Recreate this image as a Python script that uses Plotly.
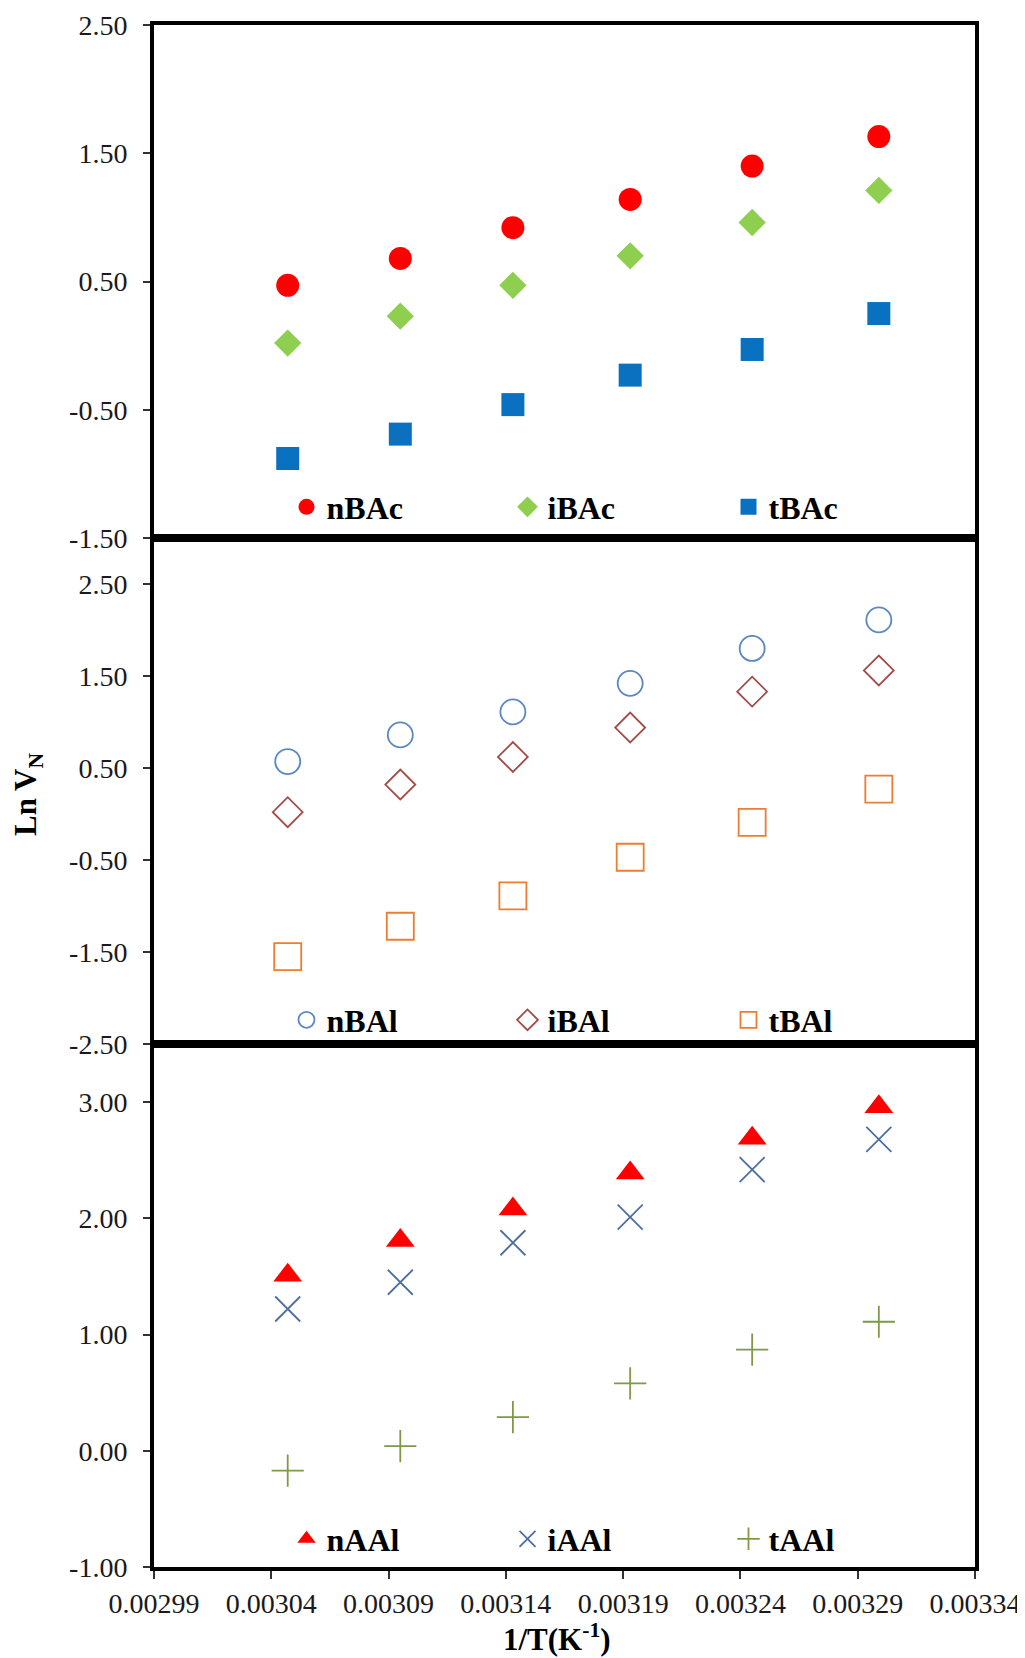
import plotly.graph_objects as go

# ---- data ----
inv_T = [0.003047, 0.003095, 0.003143, 0.003193, 0.003245, 0.003299]

nBAc = [0.47, 0.68, 0.92, 1.14, 1.40, 1.63]
iBAc = [0.02, 0.23, 0.47, 0.70, 0.96, 1.21]
tBAc = [-0.88, -0.69, -0.46, -0.23, -0.03, 0.25]

nBAl = [0.57, 0.86, 1.11, 1.42, 1.80, 2.11]
iBAl = [0.02, 0.32, 0.62, 0.94, 1.33, 1.56]
tBAl = [-1.55, -1.22, -0.89, -0.47, -0.09, 0.27]

nAAl = [1.51, 1.81, 2.08, 2.39, 2.69, 2.96]
iAAl = [1.22, 1.45, 1.79, 2.01, 2.42, 2.68]
tAAl = [-0.17, 0.04, 0.29, 0.58, 0.87, 1.11]

x_ticks = [0.00299, 0.00304, 0.00309, 0.00314, 0.00319, 0.00324, 0.00329, 0.00334]
y1_ticks = [-1.5, -0.5, 0.5, 1.5, 2.5]
y2_ticks = [-2.5, -1.5, -0.5, 0.5, 1.5, 2.5]
y3_ticks = [-1.0, 0.0, 1.0, 2.0, 3.0]


def fmt(v, d):
    return f"{v:.{d}f}"


# page has an 8px body margin; work in window pixels and convert
OFF = 8
W, H = 1025 - OFF, 1658 - OFF


def px(xw):
    return (xw - OFF) / W


def py(yw):
    return 1 - (yw - OFF) / H


L, R = 154, 975
panels = [(25, 538), (538, 1044), (1044, 1567)]

FONT = "Liberation Serif"

fig = go.Figure()

series = [
    ("nBAc", nBAc, 1, "circle", 23, "#FF0000", False),
    ("iBAc", iBAc, 1, "diamond", 21, "#8FCF4F", False),
    ("tBAc", tBAc, 1, "square", 23, "#0A70C0", False),
    ("nBAl", nBAl, 2, "circle-open", 25, "#5B87C5", True),
    ("iBAl", iBAl, 2, "diamond-open", 23, "#A34A47", True),
    ("tBAl", tBAl, 2, "square-open", 27, "#EC7D31", True),
    ("nAAl", nAAl, 3, "triangle-up", 25, "#FF0000", False),
    ("iAAl", iAAl, 3, "x-thin-open", 25, "#4D6FA0", True),
    ("tAAl", tAAl, 3, "cross-thin-open", 23, "#7E9A45", True),
]

for name, yv, k, sym, sz, col, op in series:
    suf = "" if k == 1 else str(k)
    marker = dict(symbol=sym, size=sz, color=col)
    if op:
        marker["line"] = dict(color=col, width=1.8)
    else:
        marker["line"] = dict(width=0)
    fig.add_trace(go.Scatter(
        x=inv_T, y=yv, mode="markers", name=name, marker=marker,
        xaxis="x" + suf, yaxis="y" + suf,
        legend="legend" + suf,
    ))

tickfont = dict(family=FONT, size=28, color="#1a1a1a")

layout = dict(
    width=W, height=H,
    margin=dict(l=0, r=0, t=0, b=0, autoexpand=False),
    paper_bgcolor="white", plot_bgcolor="white",
    showlegend=True,
)

yranges = [(-1.5, 2.5), (-2.5, 3.0), (-1.0, 3.5)]
yticks = [y1_ticks, y2_ticks, y3_ticks]

for i, ((top, bot), yr, yt) in enumerate(zip(panels, yranges, yticks)):
    k = i + 1
    suf = "" if k == 1 else str(k)
    dom_y = [py(bot), py(top)]
    is_bottom = (k == 3)
    layout["xaxis" + suf] = dict(
        domain=[px(L), px(R)], range=[x_ticks[0], x_ticks[-1]],
        anchor="y" + suf, automargin=False,
        showline=True, linecolor="black", linewidth=4, mirror=True,
        showgrid=False, zeroline=False,
        tickvals=x_ticks,
        ticktext=[fmt(v, 5) for v in x_ticks],
        showticklabels=is_bottom,
        ticks="outside" if is_bottom else "",
        ticklen=8, tickwidth=1.5, tickcolor="#333",
        tickfont=tickfont,
    )
    layout["yaxis" + suf] = dict(
        domain=dom_y, range=list(yr), anchor="x" + suf, automargin=False,
        showline=True, linecolor="black", linewidth=4, mirror=True,
        showgrid=False, zeroline=False,
        tickvals=yt, ticktext=[fmt(v, 2) for v in yt],
        ticks="outside", ticklen=7, tickwidth=1.5, tickcolor="#333",
        ticklabelstandoff=10,
        tickfont=tickfont,
    )

legend_y = [507, 1020, 1539]
for i, ly in enumerate(legend_y):
    k = i + 1
    key = "legend" if k == 1 else "legend" + str(k)
    layout[key] = dict(
        orientation="h", x=px(618), xanchor="center",
        y=py(ly), yanchor="middle",
        font=dict(family=FONT, size=32, color="black", weight="bold"),
        bgcolor="rgba(0,0,0,0)",
        entrywidth=176, entrywidthmode="pixels",
        itemsizing="trace", tracegroupgap=0,
    )

fig.update_layout(**layout)

fig.add_annotation(
    text="<b>Ln V<sub>N</sub></b>", textangle=-90,
    x=px(28), y=py(794), xref="paper", yref="paper",
    xanchor="center", yanchor="middle",
    showarrow=False, font=dict(family=FONT, size=31, color="black"),
)
fig.add_annotation(
    text="<b>1/T(K<sup>-1</sup>)</b>",
    x=px(557), y=py(1637), xref="paper", yref="paper",
    xanchor="center", yanchor="middle",
    showarrow=False, font=dict(family=FONT, size=31, color="black"),
)

fig.write_html("out.html")
